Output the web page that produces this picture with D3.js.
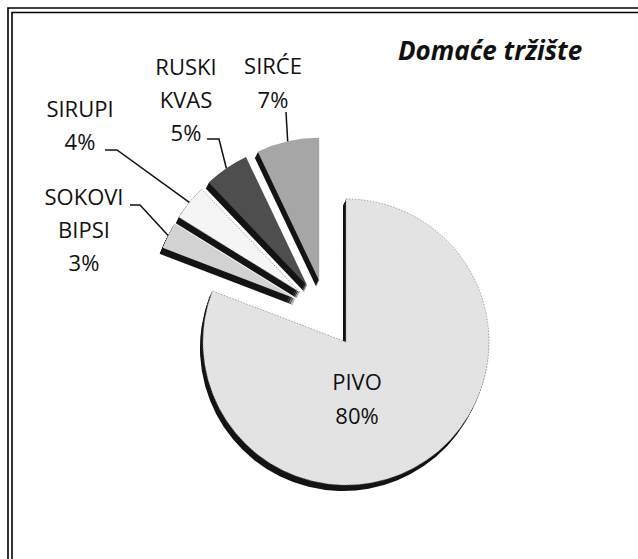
<!DOCTYPE html>
<html>
<head>
<meta charset="utf-8">
<script src="https://cdn.jsdelivr.net/npm/d3@7/dist/d3.min.js"></script>
<style>
  html, body { margin: 0; padding: 0; background: #fff; }
  svg { display: block; }
  text { font-family: "Open Sans", "DejaVu Sans", sans-serif; fill: #111; }
</style>
</head>
<body>
<svg id="chart" width="638" height="559"></svg>
<script>
// ---- data ----
const title = "Domaće tržište";
const categories = ["PIVO", "SOKOVI BIPSI", "SIRUPI", "RUSKI KVAS", "SIRĆE"];
const values = [80, 3, 4, 5, 7];
const nameLines = [["PIVO"], ["SOKOVI", "BIPSI"], ["SIRUPI"], ["RUSKI", "KVAS"], ["SIRĆE"]];

// ---- styling / layout ----
const fills = ["#e3e3e3", "#d2d2d2", "#f5f5f5", "#4e4e4e", "#a6a6a6"];
const sideColor = "#141414";
const W = 638, H = 559;
const cx = 326.7, cy = 314, R = 143, explode = 34, depth = 6;
// label layout: centre x, first baseline, line gap, leader (start points) or null
const labelLayout = [
  { x: 357, y: 390, gap: 34, leader: null },
  { x: 84, y: 205, gap: 33, leader: [[130, 205], [140, 205]] },
  { x: 80, y: 117, gap: 33, leader: [[105, 150], [117, 150]] },
  { x: 186, y: 75, gap: 33, leader: [[207, 139], [219, 139]] },
  { x: 273, y: 74, gap: 34, leader: [[286, 112]] }
];

const svg = d3.select("#chart");

// frame (double line, left + top)
svg.append("path").attr("d", `M8,${H} V8 H${W}`).attr("fill", "none").attr("stroke", "#000").attr("stroke-width", 1.6);
svg.append("path").attr("d", `M12,${H} V12.5 H${W}`).attr("fill", "none").attr("stroke", "#000").attr("stroke-width", 1.6);

const pie = d3.pie().sort(null).startAngle(0).endAngle(2 * Math.PI).value(d => d);
const arcs = pie(values);
const arc = d3.arc().innerRadius(0).outerRadius(R);

function offsetOf(a) {
  const m = (a.startAngle + a.endAngle) / 2;
  return [cx + explode * Math.sin(m), cy - explode * Math.cos(m)];
}

const g = svg.append("g");
// 3D side (extrusion) drawn as stacked copies
for (let k = depth; k >= 1; k--) {
  g.selectAll(null).data(arcs).enter().append("path")
    .attr("d", arc)
    .attr("transform", d => { const [ox, oy] = offsetOf(d); return `translate(${ox - k * 0.5},${oy + k})`; })
    .attr("fill", sideColor);
}
// top faces
g.selectAll(null).data(arcs).enter().append("path")
  .attr("d", arc)
  .attr("transform", d => { const [ox, oy] = offsetOf(d); return `translate(${ox},${oy})`; })
  .attr("fill", (d, i) => fills[i])
  .attr("stroke", (d, i) => i === 0 || i === 2 ? "#8a8a8a" : "none")
  .attr("stroke-width", 0.8)
  .attr("stroke-dasharray", (d, i) => i === 0 || i === 2 ? "1.5,1.5" : null);

// labels
arcs.forEach((a, i) => {
  const L = labelLayout[i];
  const lines = nameLines[i].concat([values[i] + "%"]);
  const t = svg.append("text").attr("text-anchor", "middle").attr("font-size", 22);
  lines.forEach((s, j) => {
    t.append("tspan").attr("x", L.x).attr("y", L.y + j * L.gap).text(s);
  });
  if (L.leader) {
    const [ox, oy] = offsetOf(a);
    const m = (a.startAngle + a.endAngle) / 2;
    const end = [ox + R * Math.sin(m), oy - R * Math.cos(m)];
    const pts = L.leader.concat([end]);
    svg.append("path")
      .attr("d", d3.line()(pts))
      .attr("fill", "none").attr("stroke", "#111").attr("stroke-width", 1.5);
  }
});

// title
svg.append("text")
  .attr("x", 398).attr("y", 60)
  .attr("font-size", 26).attr("font-weight", "bold").attr("font-style", "italic")
  .text(title);
</script>
</body>
</html>
